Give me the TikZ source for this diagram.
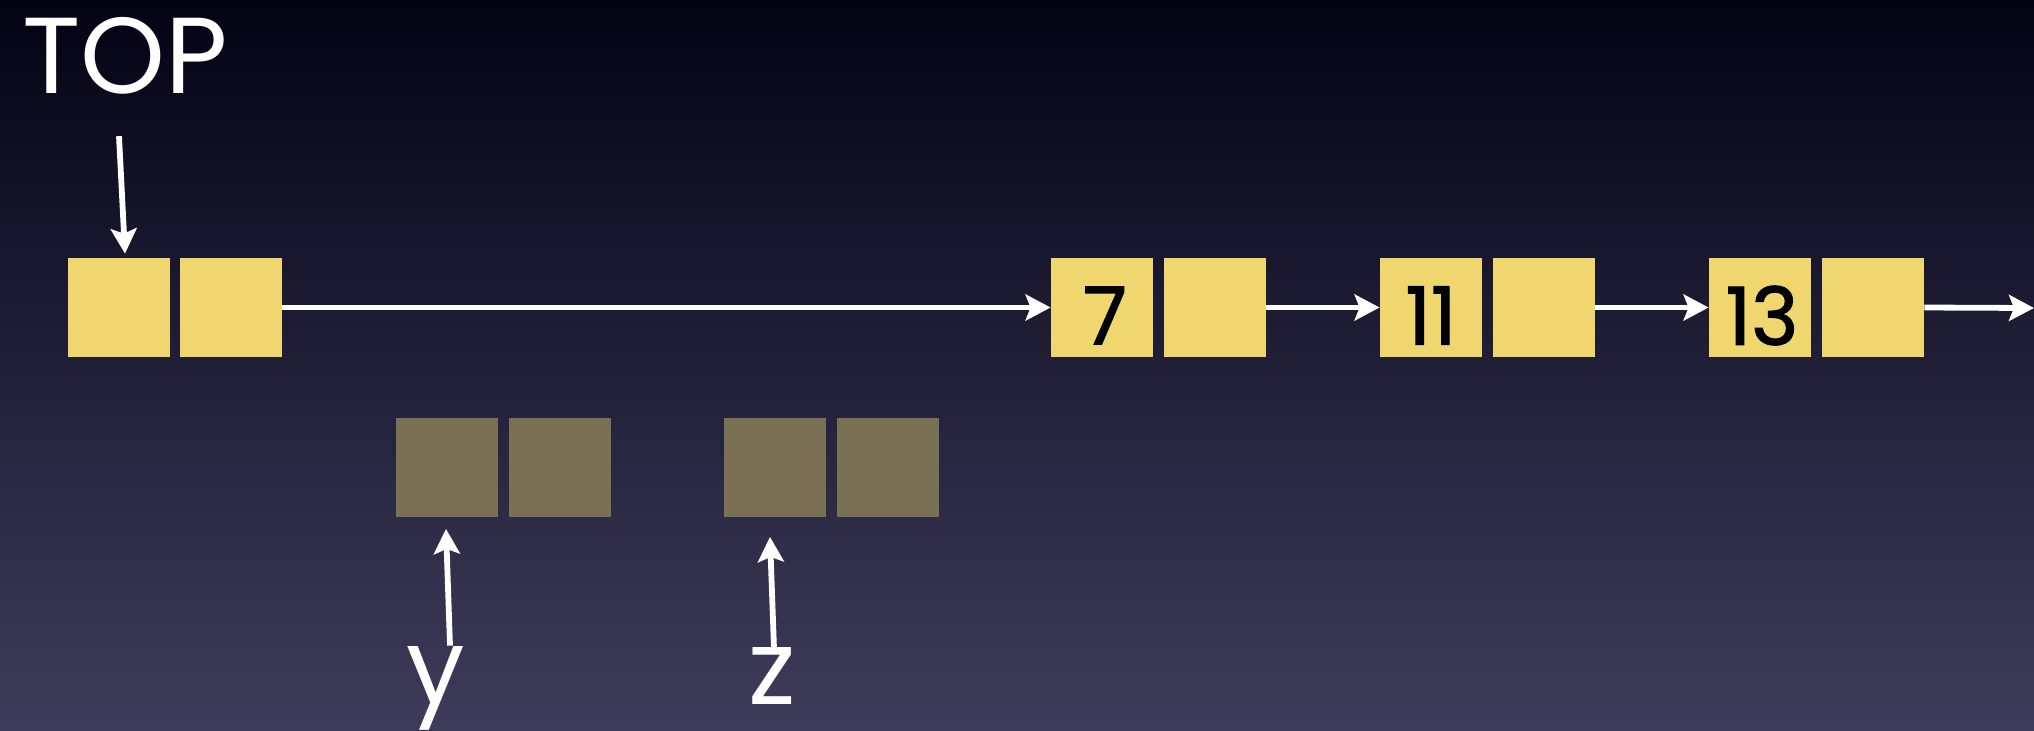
\documentclass[tikz,border=0pt]{standalone}
\usepackage{fontspec}
\setmainfont{Poppins}
\newfontfamily\numfont{Poppins}[FakeBold=1.6]
\usetikzlibrary{arrows.meta}

\definecolor{bgtop}{RGB}{4,3,20}
\definecolor{bgmid}{RGB}{28,27,56}
\definecolor{bgbot}{RGB}{62,60,90}
\definecolor{cellyellow}{RGB}{240,214,110}
\definecolor{cellgray}{RGB}{122,112,84}

\tikzset{
  cell/.style={minimum width=51pt, minimum height=49.5pt, inner sep=0pt, fill=cellyellow},
  freecell/.style={cell, fill=cellgray},
  num/.style={inner sep=0pt, text=black, font=\numfont\fontsize{40}{40}\selectfont},
  lbl/.style={inner sep=0pt, text=white, font=\fontsize{54}{54}\selectfont},
  small lbl/.style={inner sep=0pt, text=white, font=\fontsize{52}{52}\selectfont},
  ptr/.style={draw=white, line width=2.9pt,
    -{Stealth[length=12.5pt, width=13pt, inset=2.5pt, fill=white]}}
}

\begin{document}
% one unit = one pixel of the 2034 x 730 page, y measured downward as -y
\begin{tikzpicture}[x=0.5pt, y=0.5pt]
  % background
  \shade[top color=bgtop, middle color=bgmid, bottom color=bgbot] (0,0) rectangle (2034,-730);
  \useasboundingbox (0,0) rectangle (2034,-730);

  % head pointer cell
  \node[cell] (a1) at (118.5,-307.5) {};
  \node[cell] (a2) at (231,-307.5) {};

  % list cells
  \node[cell] (c7)  at (1102,-307.5) {};
  \node[cell] (c7n) at (1215,-307.5) {};
  \node[cell] (c11)  at (1431,-307.5) {};
  \node[cell] (c11n) at (1544,-307.5) {};
  \node[cell] (c13)  at (1760,-307.5) {};
  \node[cell] (c13n) at (1873,-307.5) {};

  \node[num] (v7)  at ([xshift=1.5pt,yshift=-4pt]c7.center) {7};
  \node[num] (v11) at ([yshift=-4pt]c11.center) {11};
  \node[num] (v13) at ([xshift=1pt,yshift=-4pt]c13.center) {13};

  % free cells
  \node[freecell] (g1) at (447,-467) {};
  \node[freecell] (g2) at (560,-467) {};
  \node[freecell] (g3) at (775,-467) {};
  \node[freecell] (g4) at (888,-467) {};

  % labels
  \node[lbl, anchor=base] (top) at (125,-93) {TOP};
  \node[small lbl, anchor=base] (ylab) at (436,-703) {y};
  \node[small lbl, anchor=base] (zlab) at (772,-704) {z};

  \coordinate (tail) at (2034,-308);

  % links
  \draw[ptr] ([xshift=-3pt,yshift=-21pt]top.south) -- ([xshift=3.25pt,yshift=2pt]a1.north);
  \draw[ptr] (a2.east) -- (c7.west);
  \draw[ptr] (c7n.east) -- (c11.west);
  \draw[ptr] (c11n.east) -- (c13.west);
  \draw[ptr] (c13n.east) -- (tail);
  \draw[ptr] ([xshift=7pt,yshift=0pt]ylab.north) -- ([xshift=-0.5pt,yshift=-6pt]g1.south);
  \draw[ptr] ([xshift=1pt,yshift=-1pt]zlab.north) -- ([xshift=-2.5pt,yshift=-10pt]g3.south);
\end{tikzpicture}
\end{document}
